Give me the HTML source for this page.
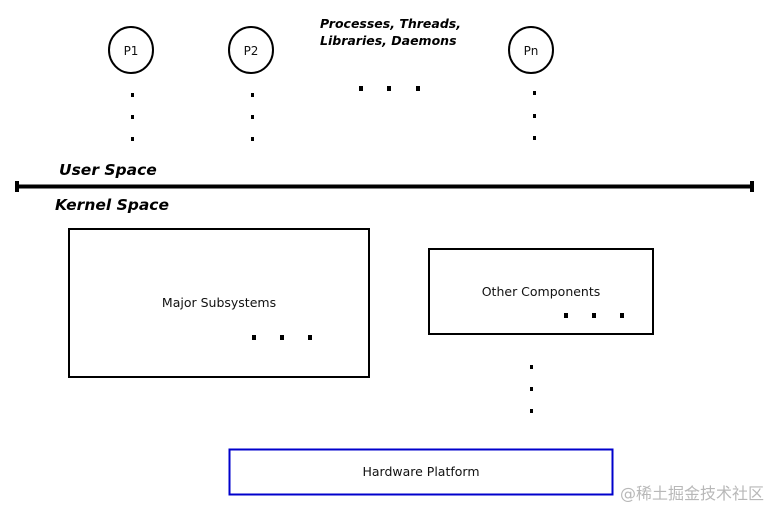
<!DOCTYPE html>
<html><head><meta charset="utf-8"><style>
html,body{margin:0;padding:0;background:#fff;}
svg{display:block}
text{font-family:"DejaVu Sans","Liberation Sans",sans-serif;}
</style></head><body>
<svg width="770" height="509" viewBox="0 0 770 509" xmlns="http://www.w3.org/2000/svg">
<g fill="none" stroke="#000" stroke-width="2">
<ellipse cx="131" cy="50" rx="22" ry="23"/>
<ellipse cx="251" cy="50" rx="22" ry="23"/>
<ellipse cx="531" cy="50" rx="22" ry="23"/>
<rect x="69" y="229" width="300" height="148"/>
<rect x="429" y="249" width="224" height="85"/>
</g>
<rect x="229.5" y="449.5" width="383" height="45" fill="none" stroke="#0000cc" stroke-width="2"/>
<g font-size="12" fill="#111" text-anchor="middle">
<text x="131" y="55">P1</text>
<text x="251" y="55">P2</text>
<text x="531" y="55">Pn</text>
<text x="219" y="307" font-size="12.5">Major Subsystems</text>
<text x="541" y="296" font-size="12.5">Other Components</text>
<text x="421" y="476" font-size="12.5">Hardware Platform</text>
</g>
<g font-weight="bold" font-style="italic" fill="#000">
<text x="320" y="28" font-size="12.5">Processes, Threads,</text>
<text x="320" y="45" font-size="12.5">Libraries, Daemons</text>
<text x="59" y="175" font-size="15.5">User Space</text>
<text x="55" y="210" font-size="15.5">Kernel Space</text>
</g>
<g fill="#000">
<rect x="131" y="93" width="3" height="4"/><rect x="131" y="115" width="3" height="4"/><rect x="131" y="137" width="3" height="4"/>
<rect x="251" y="93" width="3" height="4"/><rect x="251" y="115" width="3" height="4"/><rect x="251" y="137" width="3" height="4"/>
<rect x="533" y="91" width="3" height="4"/><rect x="533" y="114" width="3" height="4"/><rect x="533" y="136" width="3" height="4"/>
<rect x="359" y="86" width="4" height="5"/><rect x="387" y="86" width="4" height="5"/><rect x="416" y="86" width="4" height="5"/>
<rect x="252" y="335" width="4" height="5"/><rect x="280" y="335" width="4" height="5"/><rect x="308" y="335" width="4" height="5"/>
<rect x="564" y="313" width="4" height="5"/><rect x="592" y="313" width="4" height="5"/><rect x="620" y="313" width="4" height="5"/>
<rect x="530" y="365" width="3" height="4"/><rect x="530" y="387" width="3" height="4"/><rect x="530" y="409" width="3" height="4"/>
<rect x="16" y="184.5" width="738" height="4"/>
<rect x="15" y="181" width="4" height="11"/>
<rect x="750" y="181" width="4" height="11"/>
</g>
<text x="764" y="499" font-size="16" fill="#b8b8b8" text-anchor="end" font-family="'Liberation Sans','Noto Sans CJK SC',sans-serif">@稀土掘金技术社区</text>
</svg>
</body></html>
